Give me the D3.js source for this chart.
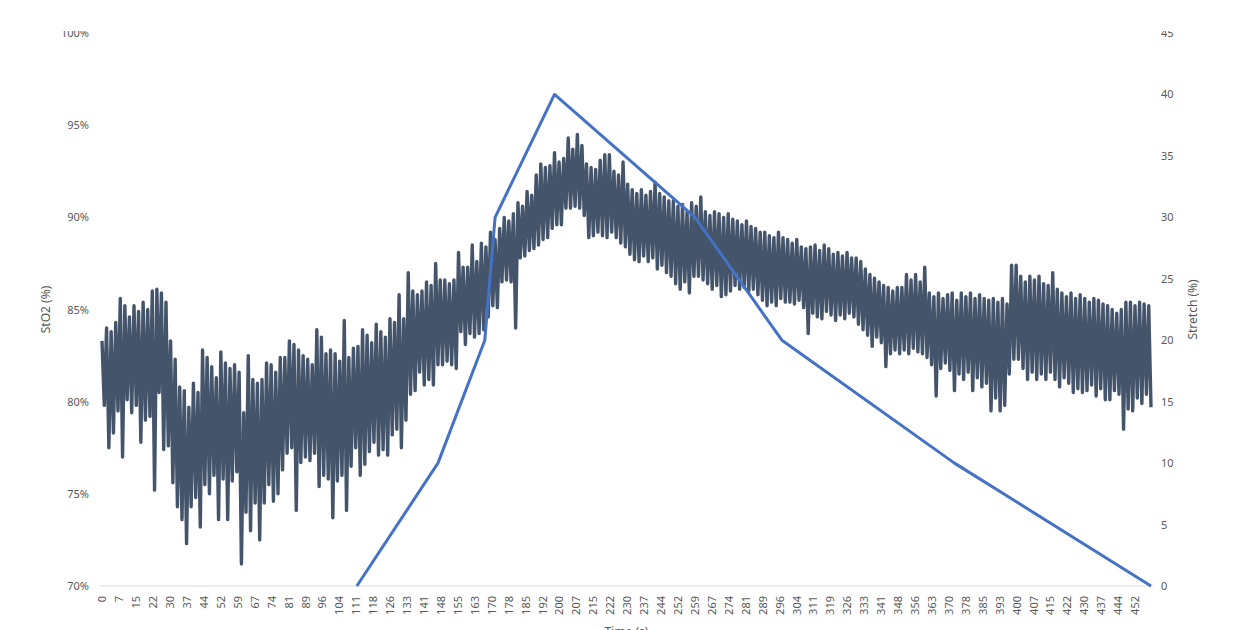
<!DOCTYPE html>
<html>
<head>
<meta charset="utf-8">
<script src="https://cdn.jsdelivr.net/npm/d3@7"></script>
<style>
  body { margin: 0; background: #fff; }
  text { font-family: "Noto Sans", sans-serif; fill: #595959; }
</style>
</head>
<body>
<div id="chart"></div>
<script>
const width = 1237;
const height = 630;

const sto2 = [
  83.3, 79.8, 84.0, 77.5, 83.8, 78.3, 84.3, 79.5, 85.6, 77.0,
  85.2, 80.1, 84.6, 79.4, 85.2, 79.8, 84.9, 77.8, 85.4, 79.0,
  85.0, 79.2, 86.0, 75.2, 86.1, 80.5, 85.9, 77.4, 85.4, 77.6,
  83.3, 75.6, 82.3, 74.3, 80.8, 73.6, 80.6, 72.3, 79.7, 74.3,
  81.0, 74.8, 80.5, 73.2, 82.8, 75.5, 82.4, 75.0, 81.9, 76.0,
  81.3, 73.6, 82.7, 75.8, 82.1, 73.6, 81.8, 75.7, 82.0, 76.2,
  81.6, 71.2, 79.4, 74.0, 82.5, 73.0, 81.2, 74.5, 81.0, 72.5,
  81.2, 74.5, 82.1, 75.5, 82.0, 74.6, 81.6, 75.0, 82.4, 76.3,
  82.4, 77.2, 83.3, 77.5, 83.1, 74.1, 82.8, 76.7, 82.5, 77.0,
  82.3, 76.8, 82.0, 77.2, 83.9, 75.4, 83.5, 76.0, 82.6, 75.8,
  82.8, 73.7, 82.6, 75.7, 82.2, 76.0, 84.4, 74.1, 82.4, 76.5,
  82.9, 77.5, 83.0, 76.0, 83.9, 76.6, 83.6, 77.3, 83.2, 77.8,
  84.2, 77.1, 83.8, 77.4, 83.5, 77.1, 84.5, 78.2, 84.3, 78.5,
  85.8, 77.5, 84.5, 79.0, 87.0, 80.4, 86.0, 80.6, 85.8, 81.6,
  86.0, 80.9, 86.5, 81.2, 86.3, 80.9, 87.5, 82.0, 86.6, 82.0,
  86.6, 82.2, 86.4, 82.0, 86.6, 81.8, 88.1, 83.8, 87.3, 83.1,
  87.3, 83.7, 88.5, 83.5, 87.6, 83.7, 88.6, 83.9, 88.4, 84.6,
  89.2, 85.2, 88.8, 85.1, 89.4, 86.5, 90.0, 86.6, 89.8, 86.5,
  90.2, 84.0, 90.8, 87.8, 90.6, 87.9, 91.4, 88.2, 91.2, 88.3,
  92.3, 88.5, 92.9, 88.8, 92.7, 88.9, 92.8, 89.4, 93.5, 89.6,
  93.0, 89.6, 93.2, 90.5, 94.3, 90.5, 93.7, 90.6, 94.5, 90.5,
  93.9, 90.1, 92.9, 88.9, 92.7, 89.0, 92.6, 89.2, 93.1, 89.0,
  93.4, 88.9, 93.4, 89.2, 92.5, 88.9, 92.3, 88.6, 93.0, 88.4,
  91.8, 88.0, 91.5, 87.7, 91.3, 87.6, 91.5, 87.9, 91.2, 87.6,
  91.4, 87.8, 91.9, 87.2, 91.3, 87.4, 91.1, 87.0, 90.9, 86.8,
  90.9, 86.4, 90.6, 86.1, 90.7, 86.5, 90.3, 85.9, 90.8, 86.8,
  90.6, 86.8, 91.1, 86.6, 90.3, 86.4, 90.1, 86.1, 90.3, 86.3,
  90.2, 85.7, 90.0, 85.8, 90.2, 86.0, 89.9, 86.3, 89.8, 86.1,
  89.6, 86.2, 89.8, 86.0, 89.5, 86.1, 89.4, 85.8, 89.2, 85.5,
  89.2, 85.2, 89.0, 85.4, 88.9, 85.2, 89.2, 85.6, 88.9, 85.4,
  88.8, 85.4, 88.6, 85.3, 88.8, 85.5, 88.4, 85.1, 88.3, 83.7,
  88.4, 84.8, 88.5, 84.6, 88.2, 84.5, 88.5, 84.9, 88.3, 84.7,
  88.0, 84.4, 88.1, 84.7, 87.9, 84.5, 88.1, 84.8, 87.8, 84.6,
  87.8, 84.2, 87.6, 83.9, 87.2, 83.6, 86.9, 83.0, 86.7, 83.5,
  86.5, 83.2, 86.3, 81.9, 86.2, 82.6, 86.0, 82.8, 86.2, 82.6,
  86.2, 82.8, 86.9, 82.6, 86.6, 82.9, 86.9, 82.7, 86.5, 82.6,
  87.3, 82.4, 85.9, 82.0, 85.7, 80.3, 85.9, 81.8, 85.6, 82.1,
  85.8, 81.7, 85.9, 80.6, 85.5, 81.5, 85.9, 81.2, 85.7, 81.6,
  85.9, 80.6, 85.6, 81.3, 85.8, 80.8, 85.6, 81.0, 85.5, 79.5,
  85.6, 80.2, 85.4, 79.5, 85.6, 79.8, 85.3, 81.5, 87.4, 82.3,
  87.4, 82.3, 86.8, 81.8, 86.5, 81.2, 86.8, 81.6, 86.6, 81.2,
  86.8, 81.5, 86.4, 81.2, 86.3, 81.6, 87.0, 81.2, 86.1, 80.8,
  85.9, 81.3, 85.7, 81.0, 85.9, 80.5, 85.6, 80.7, 85.8, 80.5,
  85.6, 80.6, 85.4, 80.9, 85.6, 80.3, 85.5, 80.7, 85.3, 80.1,
  85.2, 80.1, 85.0, 80.6, 84.8, 80.4, 85.0, 78.5, 85.4, 79.6,
  85.4, 79.5, 85.2, 80.2, 85.4, 79.9, 85.3, 80.4, 85.2, 79.7
];

// Stretch (%) protocol, corner points
const stretchTime = [111.5, 147, 167.5, 172, 198, 259.5, 297.5, 373, 459];
const stretchValue = [0, 10, 20, 30, 40, 30, 20, 10, 0];

const timeLabels = [0, 7, 15, 22, 30, 37, 44, 52, 59, 67, 74, 81, 89, 96, 104, 111, 118, 126,
  133, 141, 148, 155, 163, 170, 178, 185, 192, 200, 207, 215, 222, 230, 237, 244, 252, 259,
  267, 274, 281, 289, 296, 304, 311, 319, 326, 333, 341, 348, 356, 363, 370, 378, 385, 393,
  400, 407, 415, 422, 430, 437, 444, 452];
const labelStep = 7.408; // seconds between category labels
const leftTicks = [70, 75, 80, 85, 90, 95, 100];
const rightTicks = [0, 5, 10, 15, 20, 25, 30, 35, 40, 45];

const x = d3.scaleLinear().domain([0, 459]).range([102, 1151]);
const yLeft = d3.scaleLinear().domain([70, 100]).range([586, 33]);
const yRight = d3.scaleLinear().domain([0, 45]).range([586, 33]);

const svg = d3.select("#chart")
  .append("svg")
    .attr("width", width)
    .attr("height", height)
    .style("display", "block");

// category axis line
svg.append("line")
    .attr("x1", x(0) - 2)
    .attr("x2", x(459) + 2)
    .attr("y1", yLeft(70))
    .attr("y2", yLeft(70))
    .attr("stroke", "#d9d9d9")
    .attr("stroke-width", 1);

const xAxis = svg.append("g")
    .attr("transform", `translate(0,${yLeft(70)})`)
    .call(d3.axisBottom(x)
      .tickValues(timeLabels.map((d, i) => i * labelStep))
      .tickFormat((d, i) => timeLabels[i])
      .tickSize(0));
xAxis.select(".domain").remove();
xAxis.selectAll("text")
    .attr("transform", "rotate(-90)")
    .attr("text-anchor", "end")
    .attr("x", -10)
    .attr("y", 0)
    .attr("dy", "0.35em")
    .style("font-size", "11px");

const leftAxis = svg.append("g")
    .attr("transform", "translate(100,0)")
    .call(d3.axisLeft(yLeft).tickValues(leftTicks).tickFormat(d => d + "%").tickSize(0).tickPadding(11));
leftAxis.select(".domain").remove();
leftAxis.selectAll("text").style("font-size", "11px");

const rightAxis = svg.append("g")
    .attr("transform", "translate(1152,0)")
    .call(d3.axisRight(yRight).tickValues(rightTicks).tickSize(0).tickPadding(9));
rightAxis.select(".domain").remove();
rightAxis.selectAll("text").style("font-size", "11px");

// StO2 trace
svg.append("path")
    .datum(sto2)
    .attr("fill", "none")
    .attr("stroke", "#44546a")
    .attr("stroke-width", 3.4)
    .attr("stroke-linejoin", "round")
    .attr("d", d3.line().x((d, i) => x(i)).y(d => yLeft(d)));

// Stretch protocol
svg.append("path")
    .datum(stretchTime.map((t, i) => [t, stretchValue[i]]))
    .attr("fill", "none")
    .attr("stroke", "#4472c4")
    .attr("stroke-width", 3)
    .attr("stroke-linejoin", "round")
    .attr("d", d3.line().x(d => x(d[0])).y(d => yRight(d[1])));

// axis titles
svg.append("text")
    .attr("transform", `translate(46,${(yLeft(70) + yLeft(100)) / 2}) rotate(-90)`)
    .attr("text-anchor", "middle")
    .attr("dy", "0.35em")
    .style("font-size", "12px")
    .text("StO2 (%)");

svg.append("text")
    .attr("transform", `translate(1193,${(yRight(0) + yRight(45)) / 2}) rotate(-90)`)
    .attr("text-anchor", "middle")
    .attr("dy", "0.35em")
    .style("font-size", "12px")
    .text("Stretch (%)");

svg.append("text")
    .attr("x", (x(0) + x(459)) / 2)
    .attr("y", 636)
    .attr("text-anchor", "middle")
    .style("font-size", "12px")
    .text("Time (s)");

// the reference image is cropped just above the top tick labels
svg.append("rect")
    .attr("x", 0)
    .attr("y", 0)
    .attr("width", width)
    .attr("height", 31)
    .attr("fill", "#fff");
</script>
</body>
</html>
